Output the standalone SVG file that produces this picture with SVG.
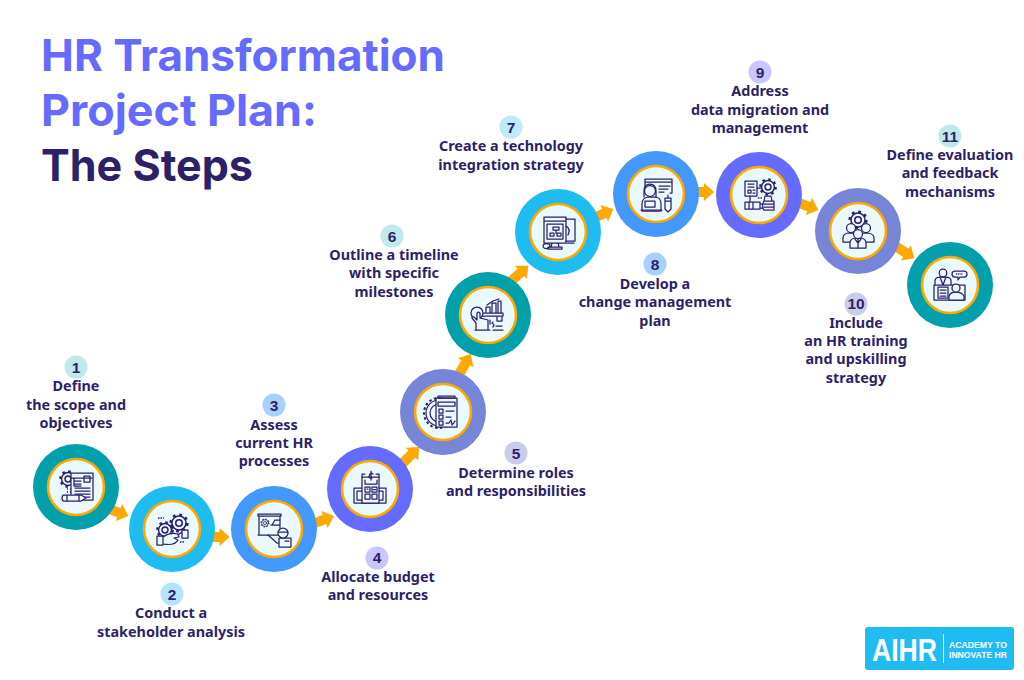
<svg xmlns="http://www.w3.org/2000/svg" width="1024" height="680" viewBox="0 0 1024 680">
<style>
text{font-family:"Noto Sans","Liberation Sans",sans-serif}
.t{font-family:Inter,"Liberation Sans",sans-serif;font-size:44px;font-weight:700}
.l{font-size:14.4px;font-weight:700;fill:#2e1f69;text-anchor:middle}
.n{font-family:"Liberation Sans",Arial,sans-serif;font-size:15.500px;font-weight:700;fill:#2e1f69;text-anchor:middle}
.in{fill:#e9f9fd;stroke:#ffa800;stroke-width:2.6}
.i{fill:none;stroke:#2e1f69;stroke-width:1.25;stroke-linejoin:round;stroke-linecap:round}
.w{fill:#e9f9fd}
.a{fill:#ffa800}
.s{font-family:"Liberation Sans",Arial,sans-serif;fill:#fff;font-weight:700}
</style>
<defs>
<polygon id="arr" points="0,0 -10,-9 -10,-5 -26,-5 -26,5 -10,5 -10,9"/>
<g id="gear"><circle r="5.600" class="i" style="fill:#e9f9fd"/><circle r="2.600" class="i"/><circle r="6.600" fill="none" stroke="#2e1f69" stroke-width="2.200" stroke-dasharray="2.200 2.980"/></g>
</defs>
<g id="title">
<text class="t" x="41" y="71" fill="#666bff" textLength="404" lengthAdjust="spacingAndGlyphs">HR Transformation</text>
<text class="t" x="41" y="126" fill="#666bff" textLength="276" lengthAdjust="spacingAndGlyphs">Project Plan:</text>
<text class="t" x="41" y="181" fill="#2e1f69" textLength="212" lengthAdjust="spacingAndGlyphs">The Steps</text>
</g>
<g id="connectors" class="a">
<use href="#arr" transform="translate(128.3,516) rotate(20)"/>
<use href="#arr" transform="translate(229.5,537)"/>
<use href="#arr" transform="translate(334,516) rotate(-20)"/>
<use href="#arr" transform="translate(419,447) rotate(-45)"/>
<use href="#arr" transform="translate(470.7,354) rotate(-60)"/>
<use href="#arr" transform="translate(528.3,265.7) rotate(-42)"/>
<use href="#arr" transform="translate(613.3,209) rotate(-25)"/>
<use href="#arr" transform="translate(714,192)"/>
<use href="#arr" transform="translate(818.3,210) rotate(20)"/>
<use href="#arr" transform="translate(914.3,258.3) rotate(33)"/>
</g>
<g id="node1">
<circle cx="76" cy="487" r="43" fill="#01a0ab"/><circle class="in" cx="76" cy="487" r="28"/>
<g transform="translate(76,487)"><use href="#gear" transform="translate(-8,-8) scale(1.150)"/><rect class="i w" x="-5" y="-14" width="22" height="27"/><path class="i" d="M-5,-9H16M-2,-6H5M-2,-3H5M-2,-9V-1H5M8,-11H14V-5H8ZM-1,1H14M-1,4H14M-1,7H14M-1,10H14"/><path class="i w" d="M-13,8H5L10,11 5,14H-13Q-15,11 -13,8ZM-9,8V14M3,8V14"/><path d="M-9,2h1M-6,2h1M-9,5h1M-6,5h1" stroke="#2e1f69" stroke-width="1.300"/></g>
<circle cx="76" cy="367" r="11.500" fill="#bfe9ec"/><text class="n" x="76" y="372.500">1</text>
<text class="l" x="76" y="391">Define</text><text class="l" x="76" y="409.500">the scope and</text><text class="l" x="76" y="428">objectives</text>
</g>
<g id="node2">
<circle cx="172" cy="529" r="43" fill="#1fbcf2"/><circle class="in" cx="172" cy="529" r="28"/>
<g transform="translate(172,529)"><use href="#gear" transform="translate(7,-6) scale(1.250)"/><use href="#gear" transform="translate(-7,1) scale(1.150)"/><path class="i w" d="M-15,7H-9V16H-15ZM-9,8Q-2,3 6,5L7,8 2,9 6,11Q3,17 -9,15ZM10,1H16V9H10ZM6,6L10,3"/><path d="M-14,-11h6M8,13h5" stroke="#2e1f69" stroke-width="1.300" stroke-dasharray="1.500 1"/></g>
<circle cx="172" cy="594" r="11.500" fill="#b3e4fb"/><text class="n" x="172" y="599.500">2</text>
<text class="l" x="171" y="618">Conduct a</text><text class="l" x="171" y="637">stakeholder analysis</text>
</g>
<g id="node3">
<circle cx="274" cy="529" r="43" fill="#4497fb"/><circle class="in" cx="274" cy="529" r="28"/>
<g transform="translate(274,529)"><path class="i" d="M-16,-15H7V-13H-16ZM-15,-13V6H6V-13M-16,6H-6M1,-9H6M-2,-4L1,-9M-3,-4H5"/><use href="#gear" transform="translate(-9,-6) scale(.600)"/><path class="i w" d="M-6,6L3,14H5V9H17V18H5V14"/><circle class="i w" cx="9" cy="4" r="5"/><path class="i" d="M4,3H14M11,12H15"/></g>
<circle cx="274" cy="405" r="11.500" fill="#a8d0fd"/><text class="n" x="274" y="410.500">3</text>
<text class="l" x="274" y="430">Assess</text><text class="l" x="274" y="448">current HR</text><text class="l" x="274" y="466">processes</text>
</g>
<g id="node4">
<circle cx="370" cy="489" r="43" fill="#666bff"/><circle class="in" cx="370" cy="489" r="28"/>
<g transform="translate(370,489)"><path class="i" d="M-16,-1H16V14H-16ZM-13,2H13V11H-13Z"/><path class="i w" d="M-8,-12H9V14H-8Z"/><path class="i" d="M-8,-12V-15H-5M9,-12V-15H6M-5,-2H0V3H-5ZM2,-2H7V3H2ZM-5,5H0V10H-5ZM2,5H7V10H2ZM-5,-9V-5H7V-9M-3,0H-2M3.500,.5H5.500"/><path class="i" d="M3,-15Q1,-17 0,-15T-1,-12T2,-11M1,-18V-9"/></g>
<circle cx="377" cy="558" r="11.500" fill="#c8c6fb"/><text class="n" x="377" y="562.500">4</text>
<text class="l" x="378" y="581.500">Allocate budget</text><text class="l" x="378" y="599.500">and resources</text>
</g>
<g id="node5">
<circle cx="443" cy="412" r="43" fill="#7785d8"/><circle class="in" cx="443" cy="412" r="28"/>
<g transform="translate(443,412)"><circle cx="-4" cy="1" r="13" fill="none" stroke="#2e1f69" stroke-width="1.200"/><circle cx="-4" cy="1" r="15" fill="none" stroke="#2e1f69" stroke-width="2" stroke-dasharray="2.500 2.500"/><circle cx="-4" cy="1" r="9" class="i"/><rect class="i w" x="-7" y="-14" width="21" height="29"/><path class="i" d="M-5,-16H12V-14H-5ZM-5,-10H12V-6H-5ZM-4,-3H0V1H-4ZM-4,3H0V7H-4ZM-4,9H0V13H-4ZM3,-1H11M3,5H8M3,11H6L8,8 9,13 12,9"/></g>
<circle cx="516" cy="453" r="11.500" fill="#c9cde9"/><text class="n" x="516" y="458.500">5</text>
<text class="l" x="516" y="478">Determine roles</text><text class="l" x="516" y="496">and responsibilities</text>
</g>
<g id="node6">
<circle cx="488" cy="315" r="43" fill="#01a0ab"/><circle class="in" cx="488" cy="315" r="28"/>
<g transform="translate(488,315)"><path class="i" d="M-5,-2H15V1H-5M-2,-2V-8H2V-2M4,-2V-12H8V-2M10,-2V-14H13V-2M-1,-10L5,-14 11,-16"/><circle class="i w" cx="-11" cy="-2" r="6"/><path class="i w" d="M-12,15V8L-16,3Q-16,1 -14,2L-11,5V-2Q-10,-4 -8,-2V3L0,5V15ZM-13,15H2"/><path class="i" d="M5,15H15M2,5V9M9,2V6H14V2M5,7Q3,8 5,9T5,12M8,11H14"/></g>
<circle cx="392" cy="236" r="11.500" fill="#bfe9ec"/><text class="n" x="392" y="241.500">6</text>
<text class="l" x="394" y="260">Outline a timeline</text><text class="l" x="394" y="278">with specific</text><text class="l" x="394" y="297">milestones</text>
</g>
<g id="node7">
<circle cx="558" cy="232" r="43" fill="#1fbcf2"/><circle class="in" cx="558" cy="232" r="28"/>
<g transform="translate(558,232)"><path class="i" d="M8,-13H17V9H8M8,-6Q13,-3 10,3"/><path class="i" d="M-14,-15H8V11H-14ZM-14,-11H8M-11,-8H5V7H-11ZM-5,-5H1V-2H-5ZM-2,-2V1M-8,1H-4V4H-8ZM-1,1H3V4H-1ZM-6,11L-7,15M0,11L1,15M-10,15H4V17H-10Z"/><ellipse class="i" cx="-11.500" cy="14" rx="3.500" ry="2.500"/><path class="i" d="M9,11H16"/></g>
<circle cx="511" cy="127" r="11.500" fill="#bfeaf8"/><text class="n" x="511" y="132.500">7</text>
<text class="l" x="511" y="151">Create a technology</text><text class="l" x="511" y="170">integration strategy</text>
</g>
<g id="node8">
<circle cx="656" cy="194" r="43" fill="#4497fb"/><circle class="in" cx="656" cy="194" r="28"/>
<g transform="translate(656,194)"><path class="i" d="M-11,-6V-15H16V-1H14M-11,-12H16M3,-8H14M3,-5H12M3,-2H8"/><path class="i w" d="M-14,17V10Q-14,4 -8,3H0Q5,4 5,10V17Z"/><circle class="i w" cx="-6" cy="-3" r="5.500"/><path class="i" d="M-12,-3Q-12,-10 -6,-10Q0,-10 0,-3V3M-12,-3V3M-11,7H-1V13H-11ZM-15,16H6"/><path class="i w" d="M9,4H15V15L12,18 9,15ZM9,7H15M12,1V4"/></g>
<circle cx="655" cy="264" r="11.500" fill="#a8d0fd"/><text class="n" x="655" y="269.500">8</text>
<text class="l" x="655" y="289">Develop a</text><text class="l" x="655" y="307">change management</text><text class="l" x="655" y="326">plan</text>
</g>
<g id="node9">
<circle cx="759" cy="195" r="43" fill="#666bff"/><circle class="in" cx="759" cy="195" r="28"/>
<g transform="translate(759,195)"><rect class="i" x="-14" y="-14" width="12" height="15"/><path class="i" d="M-11,-11H-5M-11,-8H-5M-11,-5H-8V-2H-11ZM-6,-5H-4M-6,-2H-4M-2,-7H2M-14,7H1V14H-14ZM-10,7V14M-6,7V14M1,9H6M1,13H6M-9,1V7"/><use href="#gear" transform="translate(9,-8) scale(1.150)"/><path class="i w" d="M6,1H12L13,6H5ZM5,6H15V15H5Q2,12 5,6ZM5,9H15M5,12H15"/><path d="M-1,3h5" stroke="#2e1f69" stroke-width="1.300" stroke-dasharray="1.500 1"/></g>
<circle cx="760" cy="72" r="11.500" fill="#c8c6ff"/><text class="n" x="760" y="77.500">9</text>
<text class="l" x="760" y="96">Address</text><text class="l" x="760" y="115">data migration and</text><text class="l" x="760" y="133">management</text>
</g>
<g id="node10">
<circle cx="858" cy="231" r="43" fill="#7785d8"/><circle class="in" cx="858" cy="231" r="28"/>
<g transform="translate(858,231)"><use href="#gear" transform="translate(0,-11) scale(1.250)"/><path class="i w" d="M-15,11V7Q-15,3 -10,2H-5Q0,3 0,7V11ZM0,11V7Q0,3 5,2H10Q16,3 16,7V11Z"/><circle class="i w" cx="-7" cy="-3" r="4.500"/><circle class="i w" cx="8" cy="-3" r="4.500"/><path class="i w" d="M-8,17V12Q-8,8 -3,7H3Q8,8 8,12V17Z"/><circle class="i w" cy="3" r="4.500"/><path class="i" d="M0,8V17M-3,8L0,12 3,8"/></g>
<circle cx="856" cy="304" r="11.500" fill="#c9cde9"/><text class="n" x="856" y="308.500">10</text>
<text class="l" x="856" y="327.500">Include</text><text class="l" x="856" y="346">an HR training</text><text class="l" x="856" y="364">and upskilling</text><text class="l" x="856" y="383">strategy</text>
</g>
<g id="node11">
<circle cx="950" cy="285" r="43" fill="#01a0ab"/><circle class="in" cx="950" cy="285" r="28"/>
<g transform="translate(950,285)"><circle class="i" cx="-7" cy="-12" r="3.800"/><path class="i" d="M-15,0V-4Q-15,-8 -10,-8H-4Q1,-8 1,-4V0M-10,-8L-7,0 -4,-8M-16,0H15V15H-16ZM-12,2H-2V13H-12ZM-10,5H-4M-10,8H-4M-10,11H-4"/><path class="i w" d="M-1,15V11Q0,7 6,7Q12,7 14,11V15Z"/><circle class="i w" cx="6" cy="3" r="4"/><path class="i" d="M5,-14H14Q17,-14 17,-11Q17,-8 14,-8H10L8,-5V-8H5Q2,-8 2,-11Q2,-14 5,-14Z"/><path d="M6,-11h7" stroke="#2e1f69" stroke-width="1.300" stroke-dasharray="1.200 1"/></g>
<circle cx="950" cy="136" r="11.500" fill="#bfe9ec"/><text class="n" x="950" y="141.500">11</text>
<text class="l" x="950" y="160">Define evaluation</text><text class="l" x="950" y="178">and feedback</text><text class="l" x="950" y="197">mechanisms</text>
</g>
<g id="logo">
<rect x="865" y="627" width="149" height="43" rx="3" fill="#1fbcf2"/>
<text class="s" x="872" y="661" font-size="32" textLength="65" lengthAdjust="spacingAndGlyphs">AIHR</text>
<rect x="943" y="634" width="1" height="29" fill="#fff"/>
<text class="s" x="949" y="647.500" font-size="9" textLength="58" lengthAdjust="spacingAndGlyphs">ACADEMY TO</text>
<text class="s" x="949" y="658" font-size="9" textLength="58" lengthAdjust="spacingAndGlyphs">INNOVATE HR</text>
</g>
</svg>
